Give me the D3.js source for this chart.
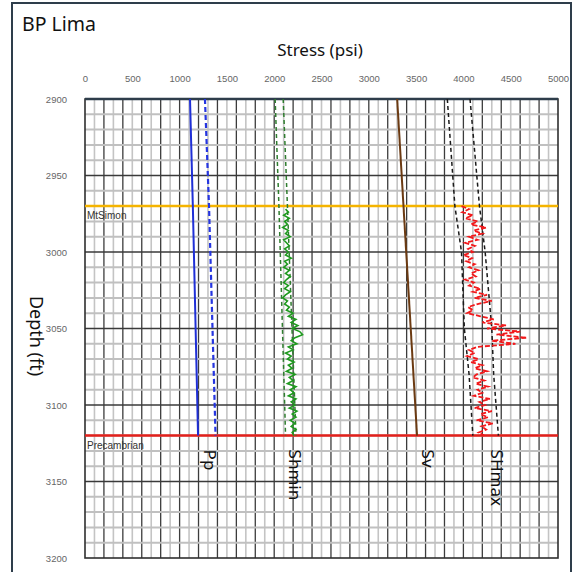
<!DOCTYPE html>
<html>
<head>
<meta charset="utf-8">
<script src="https://cdn.jsdelivr.net/npm/d3@7"></script>
<style>
  html, body { margin: 0; padding: 0; background: #fff; }
  svg { display: block; }
</style>
</head>
<body>
<div id="chart"></div>
<script>
// ---- data (depth ft, stress psi) ----
const xTicks = [0, 500, 1000, 1500, 2000, 2500, 3000, 3500, 4000, 4500, 5000];
const yTicks = [2900, 2950, 3000, 3050, 3100, 3150, 3200];

const formations = [
  { name: "MtSimon", depth: 2970, color: "#f5b400" },
  { name: "Precambrian", depth: 3120, color: "#e3201b" }
];

const ppLine = [[2900, 1110], [2970, 1140], [3120, 1195]];
const ppUpper = [[2900, 1268], [2970, 1311], [3120, 1380]];
const shminLow = [[2900, 2010], [2970, 2050], [3120, 2120]];
const shminHigh = [[2900, 2095], [2970, 2140], [3120, 2230]];
const svLine = [[2900, 3300], [3120, 3510]];
const shmaxLow = [[2900, 3830], [2970, 3910], [3000, 3980], [3050, 4010], [3080, 4060], [3120, 4100]];
const shmaxHigh = [[2900, 4070], [2970, 4170], [3000, 4230], [3050, 4300], [3080, 4320], [3120, 4370]];

const shminDepths = d3.range(2972, 3121, 2);
const shminLog = [
  2120, 2150, 2100, 2160, 2110, 2140, 2090, 2150, 2120, 2170,
  2100, 2130, 2160, 2110, 2150, 2120, 2180, 2110, 2140, 2100,
  2160, 2120, 2170, 2130, 2100, 2150, 2110, 2170, 2120, 2090,
  2140, 2110, 2160, 2130, 2200, 2150, 2230, 2180, 2250, 2190,
  2270, 2300, 2220, 2180, 2240, 2150, 2200, 2120, 2180, 2140,
  2210, 2150, 2190, 2130, 2220, 2160, 2200, 2140, 2230, 2170,
  2210, 2150, 2230, 2180, 2220, 2160, 2240, 2190, 2230, 2170,
  2220, 2180, 2230, 2190, 2210
];

const shmaxDepths = d3.range(2970, 3121, 2);
const shmaxLog = [
  3980, 4060, 3990, 4100, 4020, 4150, 4080, 4240, 4110, 4200,
  4060, 4150, 4020, 4120, 4050, 4100, 4000, 4090, 4030, 4120,
  4060, 4160, 4080, 4130, 4020, 4110, 4060, 4180, 4100, 4250,
  4120, 4300, 4150, 4050, 4100, 4040, 4180, 4320, 4200, 4450,
  4250, 4600, 4350, 4670, 4300, 4550, 4150, 4060, 4120, 4040,
  4160, 4080, 4200, 4120, 4250, 4140, 4100, 4220, 4130, 4260,
  4150, 4200, 4110, 4280, 4170, 4230, 4120, 4300, 4180, 4260,
  4140, 4310, 4190, 4240, 4160, 4220
];

const curveLabels = [
  { text: "Pp", psi: 1260 },
  { text: "Shmin", psi: 2160 },
  { text: "Sv", psi: 3560 },
  { text: "SHmax", psi: 4290 }
];

// ---- layout ----
const width = 575, height = 572;
const margin = { top: 99, right: 17, bottom: 14, left: 85 };

const svg = d3.select("#chart").append("svg")
  .attr("width", width)
  .attr("height", height)
  .attr("xmlns", "http://www.w3.org/2000/svg");

const x = d3.scaleLinear().domain([0, 5000]).range([margin.left, width - margin.right]);
const y = d3.scaleLinear().domain([2900, 3200]).range([margin.top, height - margin.bottom]);

// outer frame
svg.append("rect")
  .attr("x", 12).attr("y", 3)
  .attr("width", 559).attr("height", 620)
  .attr("fill", "none")
  .attr("stroke", "#2e3d4b")
  .attr("stroke-width", 2);

svg.append("text")
  .attr("x", 22).attr("y", 31)
  .attr("font-family", "Noto Sans, sans-serif")
  .attr("font-size", 19.5)
  .attr("fill", "#111")
  .text("BP Lima");

svg.append("text")
  .attr("x", 320).attr("y", 56)
  .attr("text-anchor", "middle")
  .attr("font-family", "Noto Sans, sans-serif")
  .attr("font-size", 17)
  .attr("fill", "#111")
  .text("Stress (psi)");

svg.append("text")
  .attr("transform", `translate(30,336) rotate(90)`)
  .attr("text-anchor", "middle")
  .attr("font-family", "Noto Sans, sans-serif")
  .attr("font-size", 18)
  .attr("fill", "#111")
  .text("Depth (ft)");

// grid
const grid = svg.append("g");
d3.range(100, 5000, 100).forEach((v, i) => {
  grid.append("line")
    .attr("x1", x(v)).attr("x2", x(v))
    .attr("y1", y(2900)).attr("y2", y(3200))
    .attr("stroke", i % 2 === 0 ? "#c4c4c4" : "#3c3c3c")
    .attr("stroke-width", i % 2 === 0 ? 1.6 : 1.3);
});
d3.range(2910, 3200, 10).forEach(v => {
  const major = v % 50 === 0;
  grid.append("line")
    .attr("x1", x(0)).attr("x2", x(5000))
    .attr("y1", y(v)).attr("y2", y(v))
    .attr("stroke", major ? "#3a3a3a" : "#c0c0c0")
    .attr("stroke-width", major ? 1.6 : 2);
});

// plot border
svg.append("rect")
  .attr("x", x(0)).attr("y", y(2900))
  .attr("width", x(5000) - x(0)).attr("height", y(3200) - y(2900))
  .attr("fill", "none")
  .attr("stroke", "#2f2f2f")
  .attr("stroke-width", 1.6);
svg.append("line")
  .attr("x1", x(0)).attr("x2", x(5000))
  .attr("y1", y(2900)).attr("y2", y(2900))
  .attr("stroke", "#2e3d4b").attr("stroke-width", 2.5);

// axes
const fmt = d3.format("d");
const xAxis = svg.append("g")
  .attr("transform", `translate(0,${y(2900) - 17})`)
  .call(d3.axisTop(x).tickValues(xTicks).tickFormat(fmt).tickSize(0).tickPadding(0));
const yAxis = svg.append("g")
  .attr("transform", `translate(${x(0) - 18},0)`)
  .call(d3.axisLeft(y).tickValues(yTicks).tickFormat(fmt).tickSize(0).tickPadding(0));
[xAxis, yAxis].forEach(a => {
  a.select(".domain").remove();
  a.selectAll("text")
    .attr("font-family", "Liberation Sans, Arial, sans-serif")
    .attr("font-size", 9.5)
    .attr("fill", "#666");
});
xAxis.selectAll("text").attr("dy", 0);

// formation tops
formations.forEach(f => {
  svg.append("line")
    .attr("x1", x(0)).attr("x2", x(5000))
    .attr("y1", y(f.depth)).attr("y2", y(f.depth))
    .attr("stroke", f.color).attr("stroke-width", 2.5);
  svg.append("text")
    .attr("x", x(0) + 2).attr("y", y(f.depth) + 13)
    .attr("font-family", "Liberation Sans, Arial, sans-serif")
    .attr("font-size", 10)
    .attr("fill", "#333")
    .text(f.name);
});

// curves
const line = d3.line().x(d => x(d[1])).y(d => y(d[0]));
const drawLine = (data, color, w, dash) => {
  svg.append("path")
    .datum(data)
    .attr("d", line)
    .attr("fill", "none")
    .attr("stroke", color)
    .attr("stroke-width", w)
    .attr("stroke-dasharray", dash || null);
};

drawLine(ppLine, "#1f2fd6", 2);
drawLine(ppUpper, "#2535e0", 2.2, "5,3");
drawLine(shminLow, "#2f7d2f", 1.5, "4,3");
drawLine(shminHigh, "#2f7d2f", 1.5, "4,3");
drawLine(svLine, "#6b3a12", 2);
drawLine(shmaxLow, "#1a1a1a", 1.5, "4,3");
drawLine(shmaxHigh, "#1a1a1a", 1.5, "4,3");
drawLine(shminDepths.map((d, i) => [d, shminLog[i]]), "#1f9a1f", 1.6);
drawLine(shmaxDepths.map((d, i) => [d, shmaxLog[i]]), "#f2191b", 1.8, "5,2");

// curve labels
curveLabels.forEach(c => {
  svg.append("text")
    .attr("transform", `translate(${x(c.psi)},${y(3120) + 14}) rotate(90)`)
    .attr("font-family", "Noto Sans, sans-serif")
    .attr("font-size", 17)
    .attr("fill", "#111")
    .text(c.text);
});
</script>
</body>
</html>
